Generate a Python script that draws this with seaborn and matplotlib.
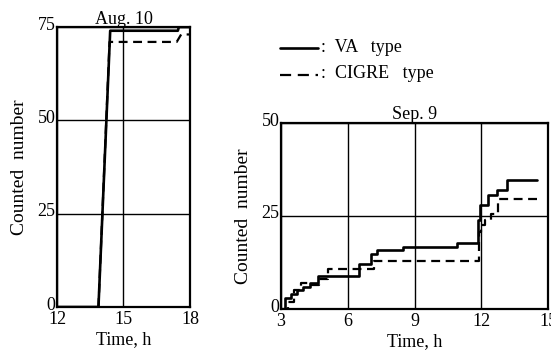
import numpy as np
import pandas as pd
import matplotlib
matplotlib.use("Agg")
import matplotlib.pyplot as plt
import matplotlib.transforms as mtransforms
import seaborn as sns

sns.set_theme(style="white")
plt.rcParams['font.family'] = ['Liberation Serif', 'DejaVu Serif']

# Aug. 10 data (time in h, counted number)
aug_va_t = [12.0, 13.87, 14.4, 17.45, 17.5, 18.0]
aug_va_n = [0, 0, 74, 74, 75, 75]
aug_cigre_t = [13.87, 14.37, 17.4, 17.6, 18.0]
aug_cigre_n = [0, 71, 71, 73, 73]

# Sep. 9 data (step functions)
sep_va_t = [3.0, 3.2, 3.45, 3.7, 4.0, 4.3, 4.65, 6.5, 7.05, 7.3, 8.5, 10.9, 11.85, 11.95, 12.3, 12.7, 13.15, 14.5]
sep_va_n = [0, 3, 4, 5, 6, 7, 9, 12.2, 14.9, 15.8, 16.8, 17.7, 23.8, 27.9, 30.6, 32.1, 34.6, 34.6]
sep_cigre_t = [3.0, 3.3, 3.6, 3.9, 4.3, 4.7, 5.1, 7.2, 11.9, 12.0, 12.15, 12.45, 12.75, 14.5]
sep_cigre_n = [0, 2, 5, 7, 6.5, 8, 10.8, 12.8, 20.7, 22.5, 24, 25.6, 29.7, 29.7]

W, H = 551, 355
fig = plt.figure(figsize=(W/100, H/100), dpi=100)

def rect(x0, y0, x1, y1):
    return [x0/W, 1 - y1/H, (x1-x0)/W, (y1-y0)/H]

ax1 = fig.add_axes(rect(57, 27, 190, 307))
ax2 = fig.add_axes(rect(281, 123, 548, 309))

DASH = (0, (4, 2.5))

df_a1 = pd.DataFrame({'t': aug_va_t, 'n': aug_va_n})
df_a2 = pd.DataFrame({'t': aug_cigre_t, 'n': aug_cigre_n})
sns.lineplot(data=df_a2, x='t', y='n', ax=ax1, color='black', lw=1.6, linestyle=DASH, sort=False)
sns.lineplot(data=df_a1, x='t', y='n', ax=ax1, color='black', lw=1.9, sort=False)

df_s1 = pd.DataFrame({'t': sep_va_t, 'n': sep_va_n})
df_s2 = pd.DataFrame({'t': sep_cigre_t, 'n': sep_cigre_n})
sns.lineplot(data=df_s2, x='t', y='n', ax=ax2, color='black', lw=1.6, linestyle=DASH, drawstyle='steps-post', sort=False)
sns.lineplot(data=df_s1, x='t', y='n', ax=ax2, color='black', lw=1.9, drawstyle='steps-post', sort=False)

shift_up = mtransforms.ScaledTranslation(0, 4/100, fig.dpi_scale_trans)

for ax, xt, yt in [(ax1, [12, 15, 18], [0, 25, 50, 75]), (ax2, [3, 6, 9, 12, 15], [0, 25, 50])]:
    ax.set_xlim(xt[0], xt[-1])
    ax.set_ylim(yt[0], yt[-1])
    ax.set_xticks(xt)
    ax.set_yticks(yt)
    ax.grid(True, color='black', lw=1.0)
    for s in ax.spines.values():
        s.set_color('black')
        s.set_linewidth(1.6)
    ax.tick_params(axis='both', length=0, labelsize=13, colors='black')
    ax.tick_params(axis='x', pad=3)
    ax.tick_params(axis='y', pad=1)
    for lab in ax.get_yticklabels():
        lab.set_transform(lab.get_transform() + shift_up)
    ax.set_xlabel('Time, h', fontsize=13, color='black', labelpad=2)
    ax.set_ylabel('Counted  number', fontsize=14, color='black', labelpad=7)

ax1.set_title('Aug. 10', fontsize=13, color='black', pad=2)
ax2.set_title('Sep. 9', fontsize=13, color='black', pad=3)

# legend drawn manually in figure coordinates
fig.lines.append(plt.Line2D([280/W, 318/W], [1-48/H, 1-48/H], color='black', lw=1.9, transform=fig.transFigure))
fig.lines.append(plt.Line2D([280/W, 318/W], [1-75/H, 1-75/H], color='black', lw=1.6, linestyle=(0, (5, 3)), transform=fig.transFigure))
fig.text(321/W, 1-47/H, ':  VA   type', fontsize=13, va='center', ha='left', color='black')
fig.text(321/W, 1-74/H, ':  CIGRE   type', fontsize=13, va='center', ha='left', color='black')

fig.savefig('out.png', dpi=100)
